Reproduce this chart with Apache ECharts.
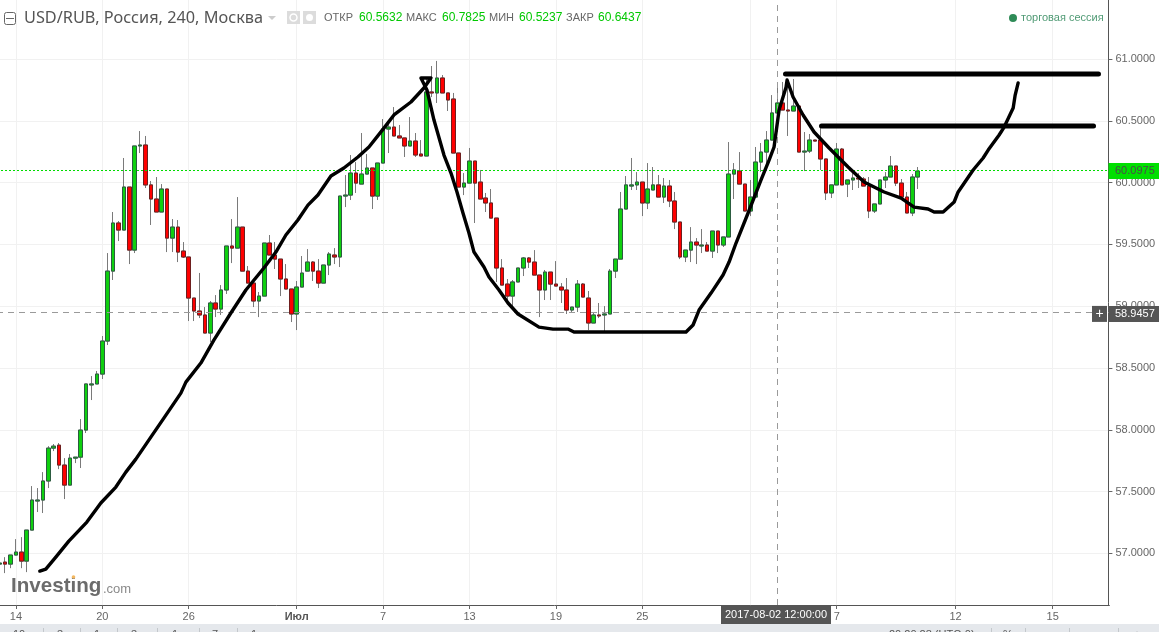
<!DOCTYPE html>
<html><head><meta charset="utf-8">
<style>html,body{margin:0;padding:0;background:#fff;overflow:hidden}#c{width:1159px;height:632px}</style>
<script src="https://cdn.jsdelivr.net/npm/echarts@6/dist/echarts.min.js"></script>
</head><body><div id="c"></div>
<script>
const opens=[56.914,56.930,56.914,56.987,57.011,56.938,57.189,57.424,57.432,57.586,
57.852,57.876,57.715,57.553,57.771,57.779,57.998,58.363,58.371,58.451,
58.718,59.284,59.673,59.616,59.964,59.454,60.296,60.304,59.981,59.867,
59.762,59.948,59.551,59.640,59.446,59.398,59.066,58.961,58.929,58.783,
59.026,58.977,59.131,59.487,59.470,59.640,59.284,59.187,59.042,59.082,
59.511,59.414,59.381,59.220,59.139,58.937,59.155,59.284,59.357,59.284,
59.187,59.333,59.414,59.398,59.891,59.899,60.077,59.988,60.069,60.118,
59.891,60.158,60.433,60.449,60.377,60.361,60.296,60.336,60.231,60.215,
60.733,60.725,60.846,60.725,60.676,60.239,59.964,59.996,60.174,60.004,
59.875,59.835,59.713,59.309,59.179,59.082,59.196,59.309,59.390,59.357,
59.252,59.131,59.276,59.179,59.155,59.131,58.969,58.993,59.179,59.066,
58.864,58.929,58.929,58.937,59.284,59.381,59.786,59.972,59.981,60.004,
59.835,59.940,59.981,59.883,59.972,59.851,59.681,59.398,59.454,59.519,
59.487,59.495,59.446,59.608,59.495,59.560,60.069,60.093,59.988,59.770,
59.883,60.166,60.247,60.344,60.5632,60.644,60.587,60.579,60.619,60.247,
60.255,60.344,60.344,60.191,59.916,59.981,60.271,59.988,60.021,60.037,
60.029,59.972,59.770,59.827,60.021,60.045,60.134,59.996,59.883,59.754,60.045];
const closes=[56.922,56.914,56.987,57.011,56.938,57.189,57.432,57.432,57.586,57.852,
57.868,57.715,57.553,57.771,57.779,57.998,58.371,58.371,58.451,58.718,
59.284,59.673,59.616,59.964,59.454,60.296,60.304,59.981,59.867,59.762,
59.948,59.551,59.640,59.438,59.398,59.066,58.961,58.929,58.783,59.026,
58.977,59.131,59.487,59.470,59.640,59.284,59.187,59.042,59.082,59.511,
59.414,59.381,59.220,59.139,58.937,59.155,59.268,59.357,59.284,59.187,
59.333,59.422,59.398,59.891,59.899,60.077,59.996,60.069,60.118,59.891,
60.158,60.433,60.449,60.377,60.361,60.296,60.336,60.223,60.215,60.733,
60.725,60.846,60.725,60.668,60.239,59.964,59.996,60.174,59.996,59.867,
59.835,59.713,59.309,59.171,59.082,59.196,59.309,59.390,59.357,59.252,
59.131,59.276,59.179,59.163,59.131,58.969,58.993,59.179,59.074,58.864,
58.929,58.921,58.937,59.284,59.381,59.786,59.981,59.981,60.004,59.835,
59.948,59.981,59.883,59.972,59.851,59.681,59.398,59.454,59.519,59.495,
59.495,59.446,59.608,59.495,59.560,60.069,60.102,59.988,59.770,59.883,
60.166,60.247,60.344,60.5632,60.6437,60.587,60.579,60.619,60.247,60.255,
60.344,60.336,60.191,59.916,59.981,60.271,59.981,60.021,60.037,60.029,
59.972,59.770,59.827,60.021,60.045,60.134,59.996,59.883,59.754,60.045,60.093];
const lows=[56.914,56.841,56.881,56.987,56.881,56.849,57.189,57.335,57.327,57.529,
57.828,57.682,57.440,57.553,57.731,57.691,57.974,58.241,58.371,58.411,
58.686,59.212,59.527,59.616,59.341,59.430,60.239,59.956,59.657,59.762,
59.762,59.438,59.438,59.357,59.390,58.880,58.880,58.904,58.783,58.710,
58.912,58.929,59.099,59.349,59.470,59.284,59.187,58.993,58.912,59.082,
59.414,59.301,59.082,59.139,58.872,58.807,59.155,59.284,59.204,59.147,
59.187,59.252,59.341,59.317,59.802,59.859,59.916,59.988,60.069,59.786,
59.859,60.158,60.239,60.377,60.361,60.207,60.296,60.207,60.215,60.215,
60.692,60.644,60.725,60.579,60.239,59.964,59.899,59.996,59.673,59.867,
59.762,59.713,59.196,59.171,59.034,58.993,59.196,59.244,59.309,59.252,
58.912,59.050,59.050,59.163,59.026,58.937,58.953,58.953,59.074,58.807,
58.864,58.904,58.791,58.937,59.228,59.381,59.786,59.940,59.940,59.729,
59.786,59.940,59.883,59.835,59.802,59.624,59.381,59.357,59.357,59.341,
59.430,59.446,59.390,59.430,59.479,59.560,59.867,59.988,59.770,59.729,
59.883,60.085,60.126,60.344,60.5237,60.587,60.377,60.579,60.247,60.093,
60.239,60.336,60.102,59.859,59.875,59.981,59.981,59.883,59.940,59.956,
59.972,59.713,59.754,59.827,59.956,60.045,59.972,59.883,59.754,59.729,59.948];
const highs=[56.922,56.970,56.987,57.116,57.132,57.189,57.545,57.529,57.658,57.868,
57.885,57.893,57.771,57.804,57.779,58.087,58.371,58.435,58.476,58.759,
59.430,59.762,59.689,60.199,59.964,60.296,60.417,60.377,60.013,60.045,
59.988,59.948,59.705,59.697,59.519,59.398,59.066,59.269,58.993,59.042,
59.090,59.171,59.487,59.705,59.883,59.640,59.325,59.187,59.115,59.511,
59.576,59.519,59.381,59.341,59.139,59.204,59.406,59.462,59.365,59.381,
59.333,59.438,59.470,59.891,60.061,60.223,60.166,60.401,60.231,60.118,
60.158,60.514,60.482,60.611,60.466,60.361,60.530,60.401,60.344,60.846,
60.943,60.984,60.870,60.725,60.725,60.239,60.077,60.280,60.174,60.102,
59.916,59.948,59.713,59.381,59.220,59.212,59.309,59.398,59.398,59.454,
59.252,59.293,59.276,59.365,59.187,59.228,58.993,59.212,59.187,59.123,
58.945,59.026,59.001,59.301,59.381,59.924,60.053,60.199,60.085,60.004,
60.158,60.126,60.061,60.037,60.021,59.924,59.681,59.454,59.640,59.551,
59.624,59.519,59.608,59.608,59.560,60.328,60.158,60.247,59.988,60.021,
60.288,60.320,60.417,60.708,60.7825,60.814,60.830,60.838,60.619,60.409,
60.393,60.344,60.449,60.191,59.981,60.320,60.280,60.021,60.077,60.077,
60.045,60.045,59.827,60.021,60.085,60.215,60.134,60.029,59.924,60.069,60.126];

// hand-drawn annotation: slot position on the time scale, price
const strokeSlots=[7.43,8.54,10.39,12.80,16.14,18.73,21.51,23.36,25.21,27.99,30.40,33.55,34.48,37.25,39.66,42.81,45.59,48.92,51.15,53.00,55.22,57.08,58.93,61.34,63.74,66.34,68.38,71.15,73.01,76.16,78.56,79.86,78.01,79.12,80.42,82.27,83.57,84.68,85.79,86.90,87.83,89.68,90.61,92.46,94.13,95.98,99.87,102.46,105.24,106.35,110.06,127.10,128.40,129.51,131.73,133.95,135.07,136.36,138.59,140.99,142.48,143.40,144.33,145.63,145.81,146.92,148.77,150.81,153.59,157.11,160.07,163.78,166.93,169.34,171.93,173.04,174.71,176.75,177.49,180.27,182.12,183.05,185.08,186.01,187.68,188.05,188.60];
const strokePrices=[56.857,56.873,56.970,57.100,57.254,57.408,57.537,57.658,57.763,57.941,58.095,58.297,58.386,58.540,58.726,58.945,59.131,59.309,59.438,59.576,59.697,59.818,59.899,60.053,60.118,60.207,60.288,60.441,60.547,60.652,60.765,60.846,60.846,60.749,60.506,60.223,60.077,59.924,59.754,59.592,59.438,59.317,59.236,59.131,59.026,58.937,58.831,58.815,58.815,58.791,58.791,58.791,58.848,58.969,59.106,59.252,59.357,59.511,59.754,60.021,60.182,60.288,60.587,60.773,60.830,60.692,60.547,60.409,60.280,60.126,60.004,59.924,59.875,59.802,59.786,59.762,59.762,59.843,59.924,60.102,60.199,60.263,60.385,60.449,60.603,60.708,60.806];
const resistanceA={slots:[145.52,203.48],price:60.878};
const resistanceB={slots:[152.19,202.56],price:60.458};

const slotCount=206;
const gridSlots=[3,19,35,55,71,87,103,119,139,155,177,195];
const labelSlots=[3,19,35,55,71,87,103,119,155,177,195];
const tickLabels=['14','20','26','Июл','7','13','19','25','7','12','15'];
const priceMin=56.583, priceMax=61.477;
const lastPrice=60.0975, cursorPrice=58.9457, cursorSlot=144, cursorTime='2017-08-02 12:00:00';
const ohlcLabels=['ОТКР','МАКС','МИН','ЗАКР'];
const ohlcValues=['60.5632','60.7825','60.5237','60.6437'];
const title='USD/RUB, Россия, 240, Москва';
const sessionText='торговая сессия';

const categories=Array.from({length:slotCount},(_,i)=>String(i));
const FONT='"Liberation Sans",Arial,sans-serif';
const gridSet=new Set(gridSlots), labelMap=new Map(labelSlots.map((s,i)=>[s,tickLabels[i]]));
const wicks=opens.map((o,i)=>[o,closes[i],lows[i],highs[i]]);
const bodies=opens.map((o,i)=>[o,closes[i],Math.min(o,closes[i]),Math.max(o,closes[i])]);
const strokePts=strokeSlots.map((s,i)=>[s,strokePrices[i]]);

const chart=echarts.init(document.getElementById('c'),null,{renderer:'canvas'});
chart.setOption({
  animation:false,backgroundColor:'#ffffff',
  grid:{left:-3,top:0,width:1112.4,height:605,containLabel:false,outerBoundsMode:'none'},
  xAxis:[{
    type:'category',data:categories,boundaryGap:true,
    axisLine:{show:true,lineStyle:{color:'#555',width:1}},
    axisTick:{show:true,alignWithLabel:true,length:4,interval:(i)=>gridSet.has(i),lineStyle:{color:'#666'}},
    axisLabel:{margin:6,fontFamily:FONT,fontSize:11,color:'#666',interval:(i)=>labelMap.has(i),
      formatter:(v,i)=>{const t=labelMap.get(+v);return t==='Июл'?'{b|Июл}':(t||'');},
      rich:{b:{fontWeight:'bold',color:'#555',fontFamily:FONT,fontSize:11}}},
    splitLine:{show:true,alignWithLabel:true,interval:(i)=>gridSet.has(i),lineStyle:{color:'#f1f1f1',width:1}}
  },{
    type:'value',show:false,min:-0.5,max:slotCount-0.5,position:'top',splitLine:{show:false}
  }],
  yAxis:{
    type:'value',position:'right',offset:-1,min:priceMin,max:priceMax,splitNumber:10,scale:true,
    axisLine:{show:true,onZero:false,lineStyle:{color:'#555',width:1}},
    axisTick:{show:true,length:4,lineStyle:{color:'#666'}},
    axisLabel:{margin:7,fontFamily:FONT,fontSize:11,color:'#666',showMinLabel:false,showMaxLabel:false,
      formatter:(v)=>v.toFixed(4)},
    splitLine:{show:true,showMinLine:false,showMaxLine:false,lineStyle:{color:'#f1f1f1',width:1}}
  },
  series:[
    {name:'wicks',type:'candlestick',data:wicks,barWidth:4,z:3,
     itemStyle:{color:'transparent',color0:'transparent',borderColor:'#7a7a7a',borderColor0:'#7a7a7a',borderWidth:1},
     markLine:{silent:true,symbol:'none',animation:false,label:{show:false},
       data:[
        {yAxis:lastPrice,lineStyle:{color:'#00dd00',type:[2,2],width:1}},
        {yAxis:cursorPrice,lineStyle:{color:'#9a9a9a',type:[6,5],width:1}},
        {xAxis:String(cursorSlot),lineStyle:{color:'#9a9a9a',type:[6,5],width:1}}
       ]}},
    {name:'bodies',type:'candlestick',data:bodies,barWidth:4,z:4,
     itemStyle:{color:'#0fd00f',color0:'#ff0000',borderColor:'#2c5c40',borderColor0:'#6e1f1f',borderWidth:1}},
    {name:'stroke',type:'line',xAxisIndex:1,data:strokePts,showSymbol:false,smooth:false,z:6,
     lineStyle:{color:'#000',width:3.4,cap:'round',join:'round'}},
    {name:'resistanceA',type:'line',xAxisIndex:1,data:resistanceA.slots.map(s=>[s,resistanceA.price]),showSymbol:false,z:6,
     lineStyle:{color:'#000',width:5,cap:'round'}},
    {name:'resistanceB',type:'line',xAxisIndex:1,data:resistanceB.slots.map(s=>[s,resistanceB.price]),showSymbol:false,z:6,
     lineStyle:{color:'#000',width:5,cap:'round'}}
  ]
});

const yLast=chart.convertToPixel({yAxisIndex:0},lastPrice);
const yCur=chart.convertToPixel({yAxisIndex:0},cursorPrice);
const xCur=chart.convertToPixel({xAxisIndex:0},String(cursorSlot));
const T=(x,y,text,size,fill,extra)=>({type:'text',z:100,x,y,style:Object.assign({text,fontFamily:FONT,fontSize:size,fill,verticalAlign:'middle'},extra||{})});
const R=(x,y,w,h,fill)=>({type:'rect',z:99,shape:{x,y,width:w,height:h},style:{fill}});
const g=[];
// bottom toolbar
g.push(R(0,624,1159,8,'#e5e8ec'));
[43,80,117,157,199,237,991,1025,1069,1118].forEach(x=>g.push({type:'line',z:100,shape:{x1:x+.5,y1:628,x2:x+.5,y2:632},style:{stroke:'#c4c8cc',lineWidth:1}}));
[[19,'10'],[60,'3'],[97,'1'],[134,'3'],[175,'1'],[215,'7'],[254,'1']].forEach(a=>g.push(T(a[0],629,a[1],11,'#555',{verticalAlign:'top',align:'center'})));
g.push(T(889,629,'20:20:28 (UTC-0)',11,'#555',{verticalAlign:'top'}));
g.push(T(1008,629,'%',11,'#555',{verticalAlign:'top',align:'center'}));
g.push(T(1137,629,'☼',12,'#555',{verticalAlign:'top',align:'center'}));
// price tags
g.push(R(1108.5,yLast-7.5,50.5,16,'#00e000'));
g.push(T(1115,yLast+0.5,lastPrice.toFixed(4),11,'#4a4a4a'));
g.push(R(1108.5,yCur-7,50.5,16,'#555555'));
g.push(T(1115,yCur+1,cursorPrice.toFixed(4),11,'#fff'));
g.push(R(1092,yCur-7,15,16,'#555555'));
g.push(T(1099.5,yCur+1,'+',14,'#fff',{align:'center'}));
// time tag
g.push(R(721,606,110,18,'#555555'));
g.push(T(776,615,cursorTime,11,'#fff',{align:'center'}));
// header
g.push({type:'rect',z:100,shape:{x:4.5,y:12.5,width:11,height:12,r:2},style:{fill:'#fff',stroke:'#666',lineWidth:1}});
g.push({type:'line',z:100,shape:{x1:6,y1:18.5,x2:14,y2:18.5},style:{stroke:'#666',lineWidth:1}});
g.push(T(24,18,title,16.3,'#555',{fontFamily:'"Noto Sans","Open Sans",sans-serif'}));
g.push({type:'polygon',z:100,shape:{points:[[268,16],[276,16],[272,20]]},style:{fill:'#ccc'}});
g.push(R(287,11,13,13,'#dcdcdc'));g.push(R(303,11,13,13,'#dcdcdc'));
g.push({type:'circle',z:100,shape:{cx:293.5,cy:17.5,r:3.5},style:{fill:'none',stroke:'#fff',lineWidth:1.5}});
g.push({type:'circle',z:100,shape:{cx:309.5,cy:17.5,r:3.5},style:{fill:'#fff'}});
[[324,359],[406,442],[489,519],[566,598]].forEach((p,i)=>{
  g.push(T(p[0],18,ohlcLabels[i],11,'#666'));
  g.push(T(p[1],18,ohlcValues[i],12,'#00c800'));
});
g.push({type:'circle',z:100,shape:{cx:1013,cy:18,r:4},style:{fill:'#2e8b57'}});
g.push(T(1021,18,sessionText,11,'#4f9a74'));
// watermark
g.push(T(11,586,'Investing',20.6,'#6b6b6b',{fontWeight:'bold'}));
g.push(T(103,589,'.com',13,'#8a8a8a'));
g.push({type:'circle',z:100,shape:{cx:73.5,cy:577,r:1.8},style:{fill:'#f4b860'}});
chart.setOption({graphic:{elements:g}});
</script></body></html>
